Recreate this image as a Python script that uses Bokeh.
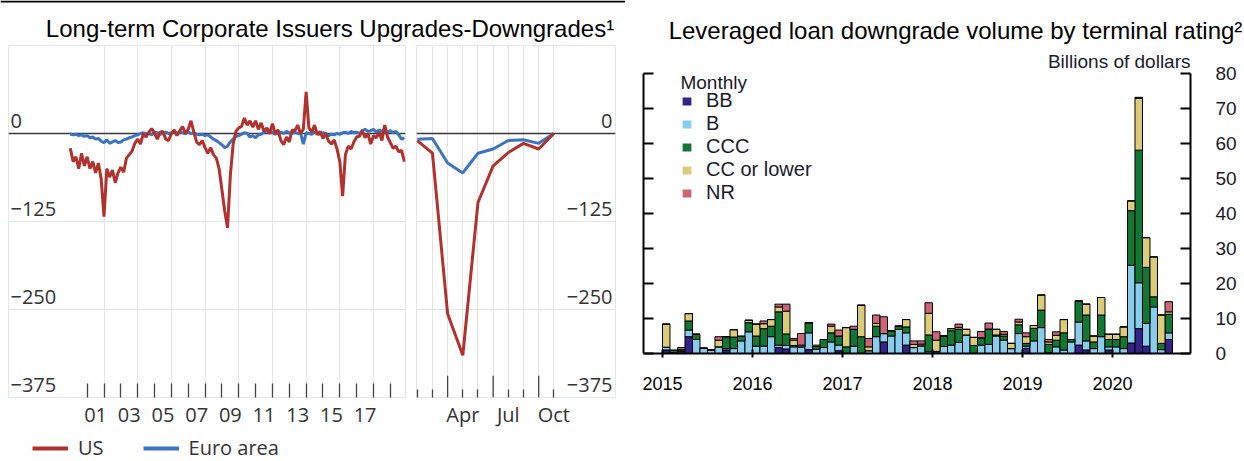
from bokeh.plotting import figure
from bokeh.layouts import row, column
from bokeh.models import (Range1d, FixedTicker, LinearAxis, Label, Legend, LegendItem,
                          ColumnDataSource, Title)
from bokeh.embed import file_html
from bokeh.resources import INLINE
from bokeh.core.properties import value

NAN = float("nan")

# ---------------- data: left chart (net rating actions) ----------------
hist_start_year = 2000
hist_step_months = 2
us_hist = [-21, -40, -33, -50, -28, -46, -33, -50, -40, -56,
           -42, -65, -118, -50, -62, -52, -70, -56, -48, -55,
           -35, -30, -25, -14, -8, -15, 0, -5, 2, 7,
           0, -8, 2, 3, -8, -10, 0, 5, -3, 4,
           10, 0, 6, 18, 2, -12, -16, -10, -20, -28,
           -20, -30, -35, -50, -80, -110, -134, -60, -15, 3,
           8, 10, 22, 12, 18, 9, 18, 6, 15, 3,
           8, 0, 14, 0, 5, -10, -16, -5, -12, 5,
           4, 12, 0, 6, 59, 8, 2, 12, -2, 3,
           -7, 0, -11, -15, -9, -22, -40, -89, -30, -18,
           -22, -12, -5, -4, 4, -6, 0, -15, -3, -6,
           2, -10, 12, -5, -13, -21, -18, -26, -24, -40]
euro_hist = [-1, -2, -1, -3, -2, -4, -3, -6, -5, -8,
             -7, -11, -13, -9, -14, -12, -10, -13, -12, -9,
             -8, -6, -5, -3, -2, 0, 1, -1, 0, -2,
             2, 1, -1, 0, 2, 0, 1, 3, 0, 2,
             1, 0, 2, 0, 1, -1, -2, -1, -3, -2,
             -5, -8, -10, -13, -16, -20, -18, -12, -8, -4,
             -3, -1, 1, 0, -5, -3, -6, -2, -1, 2,
             4, 1, 2, -1, 1, 2, 0, 3, 1, 0,
             2, 0, 1, -15, 1, 0, -1, 2, 0, -1,
             1, 0, -3, -1, -2, 0, -1, 1, 2, 0,
             3, 1, 2, 0, 4, 6, 3, 4, 6, 2,
             5, 3, 6, 2, 4, 1, 3, -2, -8, -6]
hist_years = [hist_start_year + i * hist_step_months / 12 for i in range(len(us_hist))]

months_2020 = [0, 1, 2, 3, 4, 5, 6, 7, 8, 9]          # Jan .. Oct 2020
us_2020 = [-10, -28, -256, -315, -98, -46, -27, -14, -22, 0]
euro_2020 = [-8, -7, -42, -56, -28, -22, -10, -9, -14, 0]

left_y_ticks = [0, -125, -250, -375]
left_y_labels = ["0", "\u2212125", "\u2212250", "\u2212375"]
hist_label_pos = [2001.5, 2003.5, 2005.5, 2007.5, 2009.5, 2011.5, 2013.5, 2015.5, 2017.5]
hist_label_text = ["01", "03", "05", "07", "09", "11", "13", "15", "17"]
hist_year_ticks = list(range(2001, 2020))
hist_grid_years = list(range(2002, 2019, 2))
m2020_label_pos = [3, 6, 9]
m2020_label_text = ["Apr", "Jul", "Oct"]
m2020_short_ticks = [0, 1, 4, 7]
m2020_quarter_ticks = [2, 5, 8]
m2020_grid = [1, 2, 3, 4, 5, 6, 7, 8, 9]

# ---------------- data: right chart (leveraged loan downgrades) ----------------
loan_month_index = list(range(68))                      # Jan 2015 .. Aug 2020
bb = [1.0, 0.2, 0.6, 4.8, 0, 0, 0, 0, 1.0, 0,
      0, 0, 0, 0, 0, 1.7, 1.3, 0, 0, 1.1,
      0, 0, 0, 0.8, 0, 0, 0, 0, 0, 3.3,
      0, 0, 2.4, 0, 0, 0, 0.6, 0, 0, 0,
      0, 0, 0, 0, 0, 0, 0, 0, 1.5, 0,
      0, 0.2, 0, 0, 0, 2.4, 1.0, 0, 0, 1.0,
      0, 0, 3.0, 7.1, 2.1, 0, 0, 4.0]
b = [0.8, 0, 0, 1.9, 4.0, 1.5, 1.0, 1.9, 0.4, 1.4,
     3.6, 6.2, 2.1, 2.1, 4.8, 0.7, 1.0, 1.9, 1.9, 4.8,
     1.2, 1.7, 3.3, 1.6, 0, 2.1, 0, 0.8, 4.8, 2.4,
     5.0, 6.9, 3.5, 1.7, 2.2, 0.5, 0, 2.0, 2.4, 3.2,
     5.3, 0, 2.4, 2.6, 5.0, 3.8, 1.4, 5.7, 0.6, 3.6,
     7.4, 0, 1.9, 1.0, 3.3, 6.6, 2.6, 1.4, 4.8, 0.9,
     1.9, 1.4, 22.2, 13.1, 6.5, 13.3, 1.1, 1.9]
ccc = [0, 0.7, 0.5, 2.6, 1.5, 0, 0, 0, 3.4, 3.3,
       1.3, 2.6, 2.9, 5.0, 3.0, 9.5, 3.3, 0.4, 0, 2.9,
       0.8, 2.3, 2.6, 2.6, 1.9, 4.8, 4.8, 0, 3.0, 0,
       1.5, 0.9, 1.7, 0, 0, 4.8, 0, 3.0, 4.1, 3.7,
       0, 2.3, 2.1, 4.4, 0.3, 1.2, 0, 2.5, 0.8, 3.6,
       5.0, 2.4, 1.9, 4.9, 0.7, 6.0, 7.4, 1.9, 6.2, 2.1,
       2.1, 3.4, 15.6, 37.9, 16.0, 2.9, 1.8, 5.3]
cc = [6.6, 0, 0, 2.1, 0, 0, 0, 1.9, 0, 2.1,
      0, 0.7, 3.4, 1.4, 1.9, 1.4, 6.5, 1.5, 0.5, 0,
      0, 0, 1.9, 0, 5.5, 0, 9.0, 1.1, 0.8, 0,
      0, 0, 2.1, 0.9, 0.5, 6.2, 3.2, 0, 0.6, 0.5,
      1.6, 2.3, 0, 0, 1.6, 0.5, 1.5, 0.8, 1.9, 0.8,
      4.3, 0.7, 1.4, 3.8, 0, 0, 3.1, 1.7, 5.0, 1.5,
      1.5, 2.8, 2.8, 14.8, 8.5, 11.4, 8.1, 0.7]
nr = [0, 0, 0.6, 0, 0, 0, 0, 1.0, 0, 0,
      0, 0, 0, 0.8, 0, 0.8, 2.0, 0.5, 3.3, 0,
      0.4, 0, 0.6, 1.7, 0, 0.9, 0, 2.4, 2.4, 4.8,
      0, 0, 0, 1.0, 0.9, 3.0, 2.4, 0, 0, 1.0,
      0, 0, 1.8, 1.7, 0, 0.8, 0, 0.8, 1.1, 0,
      0, 0.7, 1.0, 0, 0, 0, 0, 0, 0, 0,
      0, 0, 0, 0.3, 0, 0, 0, 2.9]
rating_keys = ["BB", "B", "CCC", "CC", "NR"]
rating_labels = ["BB", "B", "CCC", "CC or lower", "NR"]
rating_colors = ["#332288", "#88CCEE", "#117733", "#DDCC77", "#CC6677"]
year_tick_months = [0, 12, 24, 36, 48, 60]
year_tick_labels = ["2015", "2016", "2017", "2018", "2019", "2020"]
loan_y_ticks = [0, 10, 20, 30, 40, 50, 60, 70, 80]

# ---------------- styling ----------------
RED = "#b3312d"
BLUE = "#3b74c1"
GRID = "#e4e4e4"
OUTLINE = "#e6e6e6"
AXTXT = "#333333"
RTXT = "#1a1a2a"
FL = "Open Sans"
FR = "Liberation Sans"
Y_MIN, Y_MAX = -375, 125


def blank(w, h):
    p = figure(width=w, height=h, x_range=Range1d(0, w), y_range=Range1d(0, h),
               toolbar_location=None, output_backend="svg", title=None,
               x_axis_location=None, y_axis_location=None, min_border=0)
    p.outline_line_color = None
    p.grid.visible = False
    return p


def left_panel(xr, frame_w, mbl, mbr, standoff):
    p = figure(frame_width=frame_w, frame_height=352, x_range=xr,
               y_range=Range1d(Y_MIN, Y_MAX), toolbar_location=None, output_backend="svg",
               title=None, x_axis_location="below", y_axis_location=None,
               min_border_left=mbl, min_border_right=mbr, min_border_top=0, min_border_bottom=37)
    p.outline_line_color = OUTLINE
    p.grid.grid_line_color = GRID
    p.ygrid.ticker = FixedTicker(ticks=[-125, -250])
    ax = p.xaxis[0]
    ax.axis_line_color = None
    ax.major_label_text_font = FL
    ax.major_label_text_font_size = "20px"
    ax.major_label_text_color = AXTXT
    ax.major_label_standoff = standoff
    ax.major_tick_out = 0
    ax.minor_tick_out = 0
    ax.major_tick_line_color = "#444444"
    ax.minor_tick_line_color = "#444444"
    ax.major_tick_line_width = 1.3
    ax.minor_tick_line_width = 1.3
    p.hspan(y=[0], line_color="#3a3a3a", line_width=1.5)
    return p


# ---- title left (with the top rule of the graph)
tL = blank(625, 45)
tL.hspan(y=[44], line_color="black", line_width=2)
tL.add_layout(Label(x=329.5, y=17.3, text="Long-term Corporate Issuers Upgrades-Downgrades\u00b9",
                    text_align="center", text_baseline="middle", text_font=FR,
                    text_font_size="24px", text_color="black"))

# ---- panel A (history)
pA = left_panel(Range1d(1996.33, 2019.9), 397, 8, 5, 10)
pA.xgrid.ticker = FixedTicker(ticks=hist_grid_years)
pA.xaxis.ticker = FixedTicker(ticks=hist_label_pos, minor_ticks=hist_year_ticks)
pA.xaxis.major_label_overrides = dict(zip(hist_label_pos, hist_label_text))
pA.xaxis.major_tick_line_color = None
pA.xaxis.minor_tick_in = 14
pA.line(hist_years, euro_hist, line_color=BLUE, line_width=3)
pA.line(hist_years, us_hist, line_color=RED, line_width=3)
pA.text(x=[pA.x_range.start] * len(left_y_ticks), y=left_y_ticks, text=left_y_labels,
        text_font=value(FL), text_font_size="20px", text_color=AXTXT,
        text_align="left", text_baseline="middle", x_offset=2, y_offset=-13)

# ---- panel B (2020)
pB = left_panel(Range1d(-0.05, 13.06), 199, 6, 10, 3)
pB.xgrid.ticker = FixedTicker(ticks=m2020_grid)
pB.xaxis.ticker = FixedTicker(ticks=m2020_label_pos, minor_ticks=m2020_short_ticks)
pB.xaxis.major_label_overrides = dict(zip(m2020_label_pos, m2020_label_text))
pB.xaxis.major_tick_in = 8
pB.xaxis.minor_tick_in = 8
pB.segment(x0=m2020_quarter_ticks, x1=m2020_quarter_ticks,
           y0=[Y_MIN] * len(m2020_quarter_ticks), y1=[Y_MIN + 31] * len(m2020_quarter_ticks),
           line_color="#444444", line_width=1.3)
pB.line(months_2020, euro_2020, line_color=BLUE, line_width=3)
pB.line(months_2020, us_2020, line_color=RED, line_width=3)
pB.text(x=[pB.x_range.end] * len(left_y_ticks), y=left_y_ticks, text=left_y_labels,
        text_font=value(FL), text_font_size="20px", text_color=AXTXT,
        text_align="right", text_baseline="middle", x_offset=-3, y_offset=-13)

# ---- legend left
legL = blank(625, 27)
r_us = legL.line(x=[NAN], y=[NAN], line_color=RED, line_width=4)
r_ea = legL.line(x=[NAN], y=[NAN], line_color=BLUE, line_width=4)
legL.add_layout(Legend(items=[LegendItem(label="US", renderers=[r_us]),
                              LegendItem(label="Euro area", renderers=[r_ea])],
                       orientation="horizontal", location=(32, 0),
                       glyph_width=36, glyph_height=20, label_standoff=10, spacing=39,
                       padding=0, margin=0, border_line_color=None, background_fill_alpha=0,
                       label_text_font=FL, label_text_font_size="20px", label_text_color=AXTXT))

# ---- title right
tR = blank(619, 45)
tR.add_layout(Label(x=330, y=15, text="Leveraged loan downgrade volume by terminal rating\u00b2",
                    text_align="center", text_baseline="middle", text_font=FR,
                    text_font_size="24px", text_color="black"))

# ---- right bar chart
pR = figure(frame_width=547, frame_height=280, x_range=Range1d(-2.53, 70.4),
            y_range=Range1d(0, 80), toolbar_location=None, output_backend="svg", title=None,
            x_axis_location="below", y_axis_location="right",
            min_border_left=18, min_border_right=54, min_border_top=28, min_border_bottom=0)
pR.grid.visible = False
pR.outline_line_color = None
pR.add_layout(Title(text="Billions of dollars", align="right", text_font=FR,
                    text_font_size="19px", text_font_style="normal", text_color=RTXT,
                    standoff=3), "above")

axR = pR.yaxis[0]
axR.ticker = FixedTicker(ticks=loan_y_ticks)
axR.major_tick_in = 10
axR.major_tick_out = 0
axR.axis_line_width = 2
axR.major_tick_line_width = 2
axR.major_label_standoff = 25
axR.major_label_text_font = FR
axR.major_label_text_font_size = "19px"
axR.major_label_text_color = RTXT
axR.minor_tick_line_color = None

axL = LinearAxis(ticker=FixedTicker(ticks=[], minor_ticks=loan_y_ticks),
                 major_tick_in=0, major_tick_out=0, minor_tick_in=10, minor_tick_out=0,
                 axis_line_width=2, minor_tick_line_width=2, minor_tick_line_color="black",
                 major_label_standoff=0)
pR.add_layout(axL, "left")

axB = pR.xaxis[0]
axB.ticker = FixedTicker(ticks=year_tick_months)
axB.major_label_overrides = dict(zip(year_tick_months, year_tick_labels))
axB.major_tick_in = 4
axB.major_tick_out = 4
axB.axis_line_width = 2
axB.major_tick_line_width = 2
axB.minor_tick_line_color = None
axB.major_label_standoff = 19
axB.major_label_text_font = FR
axB.major_label_text_font_size = "18px"
axB.major_label_text_color = "black"

src = ColumnDataSource(dict(x=[m + 0.5 for m in loan_month_index],
                            BB=bb, B=b, CCC=ccc, CC=cc, NR=nr))
pR.vbar_stack(rating_keys, x="x", width=1.0, fill_color=rating_colors,
              line_color="black", line_width=1, source=src)

leg_items = []
for lab, col in zip(rating_labels, rating_colors):
    rr = pR.rect(x=[NAN], y=[NAN], width=1, height=1, fill_color=col, line_color=None)
    leg_items.append(LegendItem(label=lab, renderers=[rr]))
pR.add_layout(Legend(items=leg_items, location=(38, 149),
                     glyph_width=11, glyph_height=10, label_standoff=14, spacing=-1,
                     padding=0, margin=0, label_height=21,
                     label_text_font=FR, label_text_font_size="20px", label_text_color=RTXT,
                     border_line_color=None, background_fill_alpha=0))
pR.add_layout(Label(x=2.4, y=77.4, text="Monthly", text_align="left", text_baseline="middle",
                    text_font=FR, text_font_size="19px", text_color=RTXT))

layout = row(column(row(tL), row(pA, pB), row(legL)), column(row(tR), pR))

open("out.html", "w").write(file_html(layout, INLINE))
